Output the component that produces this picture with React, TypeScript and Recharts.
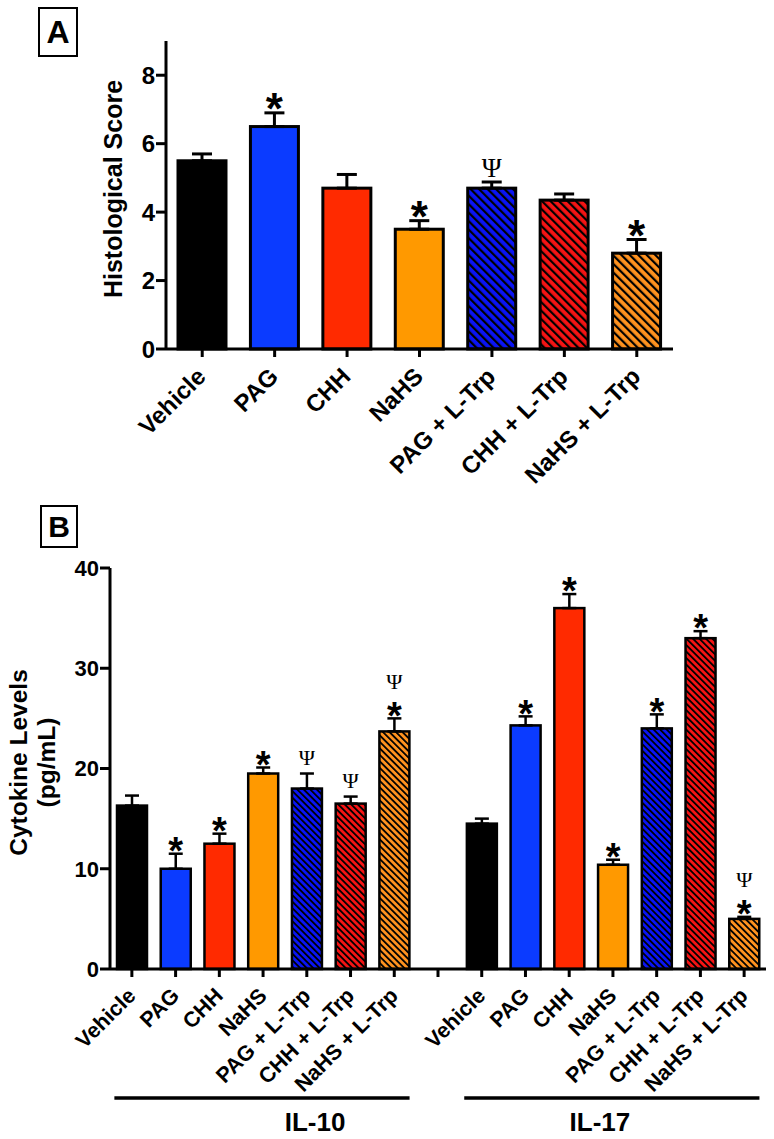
import React from 'react';
import { BarChart, Bar, XAxis, YAxis, ErrorBar, Label } from 'recharts';

const FONT = '"Liberation Sans", Arial, Helvetica, sans-serif';
const SERIF = '"Liberation Serif", "Times New Roman", serif';

// ---------- data ----------
const treatments = ['Vehicle', 'PAG', 'CHH', 'NaHS', 'PAG + L-Trp', 'CHH + L-Trp', 'NaHS + L-Trp'];

const histoScore = [5.5, 6.5, 4.7, 3.5, 4.7, 4.35, 2.8];
const histoSem = [0.2, 0.4, 0.4, 0.25, 0.18, 0.18, 0.4];
const histoSig = ['', '*', '', '*', 'Ψ', '', '*'];
const histoTicks = [0, 2, 4, 6, 8];

const cytokines = ['IL-10', 'IL-17'];
const il10Mean = [16.3, 10.0, 12.5, 19.5, 18.0, 16.5, 23.7];
const il10Sem = [1.0, 1.5, 1.0, 0.6, 1.5, 0.7, 1.3];
const il10Sig = ['', '*', '*', '*', 'Ψ', 'Ψ', '*Ψ'];
const il17Mean = [14.5, 24.3, 36.0, 10.4, 24.0, 33.0, 5.0];
const il17Sem = [0.5, 0.9, 1.4, 0.5, 1.4, 0.7, 0.2];
const il17Sig = ['', '*', '*', '*', '*', '*', '*Ψ'];
const cytoTicks = [0, 10, 20, 30, 40];

// ---------- styles ----------
const treatmentFill = ['#000000', '#0b3bff', '#ff2a00', '#ff9900', '#0a14f5', '#f51414', '#ff921f'];
const treatmentHatched = [false, false, false, false, true, true, true];

const dataA = treatments.map((t, i) => ({
  key: t, label: t, value: histoScore[i], err: [0, histoSem[i]], sig: histoSig[i], style: i,
}));

const makeRows = (group: string, mean: number[], sem: number[], sig: string[]) =>
  treatments.map((t, i) => ({
    key: `${group} ${t}`, label: t, value: mean[i], err: [0, sem[i]], sig: sig[i], style: i, group,
  }));

const dataB = [
  ...makeRows(cytokines[0], il10Mean, il10Sem, il10Sig),
  { key: 'gap', label: '', value: null, err: null, sig: '', style: -1, group: '' },
  ...makeRows(cytokines[1], il17Mean, il17Sem, il17Sig),
];

const cfgA = { id: 'A', stroke: 3, starSize: 44, starGap: 6, psiSize: 27, psiGap: 5, stackGap: 13, hatch: 6, hatchLine: 2.2 };
const cfgB = { id: 'B', stroke: 2.5, starSize: 38, starGap: 5, psiSize: 22, psiGap: 9, stackGap: 13, hatch: 4.6, hatchLine: 1.8 };

const makeShape = (cfg: any) => (props: any) => {
  const { x, y, width, height, payload } = props;
  if (!payload || payload.value == null || !(height > 0)) return <g />;
  const i = payload.style;
  const fill = treatmentHatched[i] ? `url(#hatch-${cfg.id}-${i})` : treatmentFill[i];
  const unit = height / payload.value;
  const errTop = y - (payload.err ? payload.err[1] : 0) * unit;
  const cx = x + width / 2;
  const marks: any[] = [];
  let cursor = errTop;
  const chars = Array.from(payload.sig as string);
  chars.forEach((c, k) => {
    if (c === '*') {
      cursor -= cfg.starGap;
      marks.push(
        <text key={k} x={cx} y={cursor + cfg.starSize * 0.4} textAnchor="middle" fontSize={cfg.starSize}
          fontWeight="bold" fontFamily={FONT} fill="#000">*</text>
      );
      cursor -= cfg.starSize * 0.31;
    } else {
      cursor -= k > 0 ? cfg.stackGap : cfg.psiGap;
      marks.push(
        <text key={k} x={cx} y={cursor} textAnchor="middle" fontSize={cfg.psiSize}
          fontFamily={SERIF} fill="#000">Ψ</text>
      );
      cursor -= cfg.psiSize * 0.66;
    }
  });
  return (
    <g>
      <rect x={x} y={y} width={width} height={height} fill={fill} stroke="#000" strokeWidth={cfg.stroke} />
      {marks}
    </g>
  );
};

const makeXTick = (fontSize: number, rows: any[], dx: number, dy: number) => (props: any) => {
  const { x, y, index } = props;
  const label = rows[index] ? rows[index].label : '';
  const ax = x + dx;
  const ay = y + dy;
  return (
    <text x={ax} y={ay} transform={`rotate(-45, ${ax}, ${ay})`} textAnchor="end" fontSize={fontSize}
      fontWeight="bold" fontFamily={FONT} fill="#000">{label}</text>
  );
};

// chart B geometry
const B_W = 774, B_H = 639;
const B_MARGIN = { top: 68, right: 8, bottom: 0, left: 50 };
const B_YAXIS_W = 60;
const bandB = (B_W - B_MARGIN.left - B_MARGIN.right - B_YAXIS_W) / dataB.length;
const groupLabelShift = [52, -13];

const GroupTick = (props: any) => {
  const { x, y, index } = props;
  const row = dataB[index];
  if (!row || row.style !== 3) return <g />;
  const g = cytokines.indexOf(row.group);
  return (
    <g>
      <line x1={x - 3.4 * bandB} x2={x + 3.35 * bandB} y1={y + 8} y2={y + 8} stroke="#000" strokeWidth={3.5} />
      <text x={x + groupLabelShift[g]} y={y + 41} textAnchor="middle" fontSize={26} fontWeight="bold"
        fontFamily={FONT} fill="#000">{row.group}</text>
    </g>
  );
};

const Patterns = () => (
  <svg width={0} height={0} style={{ position: 'absolute' }}>
    <defs>
      {[cfgA, cfgB].map((cfg) =>
        treatmentFill.map((c, i) =>
          treatmentHatched[i] ? (
            <pattern key={`${cfg.id}-${i}`} id={`hatch-${cfg.id}-${i}`} patternUnits="userSpaceOnUse"
              width={cfg.hatch} height={cfg.hatch} patternTransform="rotate(-45)">
              <rect x={0} y={0} width={cfg.hatch} height={cfg.hatch} fill={c} />
              <rect x={0} y={0} width={cfg.hatchLine} height={cfg.hatch} fill="#000" />
            </pattern>
          ) : null
        )
      )}
    </defs>
  </svg>
);

const PanelTag = ({ letter, left, top, w, h, size }: any) => (
  <div style={{
    position: 'absolute', left, top, width: w, height: h, boxSizing: 'border-box', border: '2px solid #000',
    display: 'flex', alignItems: 'center', justifyContent: 'center', fontFamily: FONT, fontWeight: 'bold',
    fontSize: size, lineHeight: 1, color: '#000',
  }}>{letter}</div>
);

const axisLine = { stroke: '#000', strokeWidth: 3 };

export default function App() {
  return (
    <div style={{ position: 'absolute', left: 0, top: 0, width: 774, height: 1139, background: '#fff', overflow: 'hidden' }}>
      <Patterns />
      <PanelTag letter="A" left={38} top={7} w={40} h={50} size={32} />
      <div style={{ position: 'absolute', left: 0, top: 0 }}>
        <BarChart width={774} height={500} data={dataA} margin={{ top: 41, right: 101, bottom: 11, left: 96 }}>
          <XAxis dataKey="key" interval={0} height={140} axisLine={axisLine} tickLine={axisLine} tickSize={8}
            tickMargin={2} tick={makeXTick(24, dataA, 5, 19)} />
          <YAxis domain={[0, 9]} ticks={histoTicks} width={70} axisLine={axisLine} tickLine={axisLine} tickSize={10}
            tickMargin={1} tick={{ fontSize: 24, fontWeight: 'bold', fill: '#000', fontFamily: FONT }}>
            <Label content={(p: any) => {
              const vb = p.viewBox || {};
              const cx = vb.x + 17;
              const cy = vb.y + vb.height / 2 - 6;
              return (
                <text x={cx} y={cy} transform={`rotate(-90, ${cx}, ${cy})`} textAnchor="middle" dominantBaseline="central"
                  fontSize={25} fontWeight="bold" fontFamily={FONT} fill="#000">Histological Score</text>
              );
            }} />
          </YAxis>
          <Bar dataKey="value" barSize={48} isAnimationActive={false} shape={makeShape(cfgA)}>
            <ErrorBar dataKey="err" direction="y" width={10} stroke="#000" strokeWidth={3} isAnimationActive={false} />
          </Bar>
        </BarChart>
      </div>

      <PanelTag letter="B" left={40} top={505} w={38} h={43} size={30} />
      <div style={{ position: 'absolute', left: 0, top: 500 }}>
        <BarChart width={B_W} height={B_H} data={dataB} margin={B_MARGIN}>
          <XAxis dataKey="key" interval={0} height={121} axisLine={axisLine} tickLine={axisLine} tickSize={8}
            tickMargin={2} tick={makeXTick(21.5, dataB, 5, 18)} />
          <XAxis xAxisId="grp" dataKey="key" interval={0} height={49} axisLine={false} tickLine={false} tickSize={0}
            tickMargin={0} tick={GroupTick} />
          <YAxis domain={[0, 40]} ticks={cytoTicks} width={B_YAXIS_W} axisLine={axisLine} tickLine={axisLine}
            tickSize={10} tickMargin={1} tick={{ fontSize: 22, fontWeight: 'bold', fill: '#000', fontFamily: FONT }}>
            <Label content={(p: any) => {
              const vb = p.viewBox || {};
              const cy = vb.y + vb.height / 2 - 6;
              return (
                <g>
                  <text x={18} y={cy} transform={`rotate(-90, 18, ${cy})`} textAnchor="middle" dominantBaseline="central"
                    fontSize={24.5} fontWeight="bold" fontFamily={FONT} fill="#000">Cytokine Levels</text>
                  <text x={46} y={cy} transform={`rotate(-90, 46, ${cy})`} textAnchor="middle" dominantBaseline="central"
                    fontSize={24.5} fontWeight="bold" fontFamily={FONT} fill="#000">(pg/mL)</text>
                </g>
              );
            }} />
          </YAxis>
          <Bar dataKey="value" barSize={30} isAnimationActive={false} shape={makeShape(cfgB)}>
            <ErrorBar dataKey="err" direction="y" width={7} stroke="#000" strokeWidth={2.5} isAnimationActive={false} />
          </Bar>
        </BarChart>
      </div>
    </div>
  );
}
